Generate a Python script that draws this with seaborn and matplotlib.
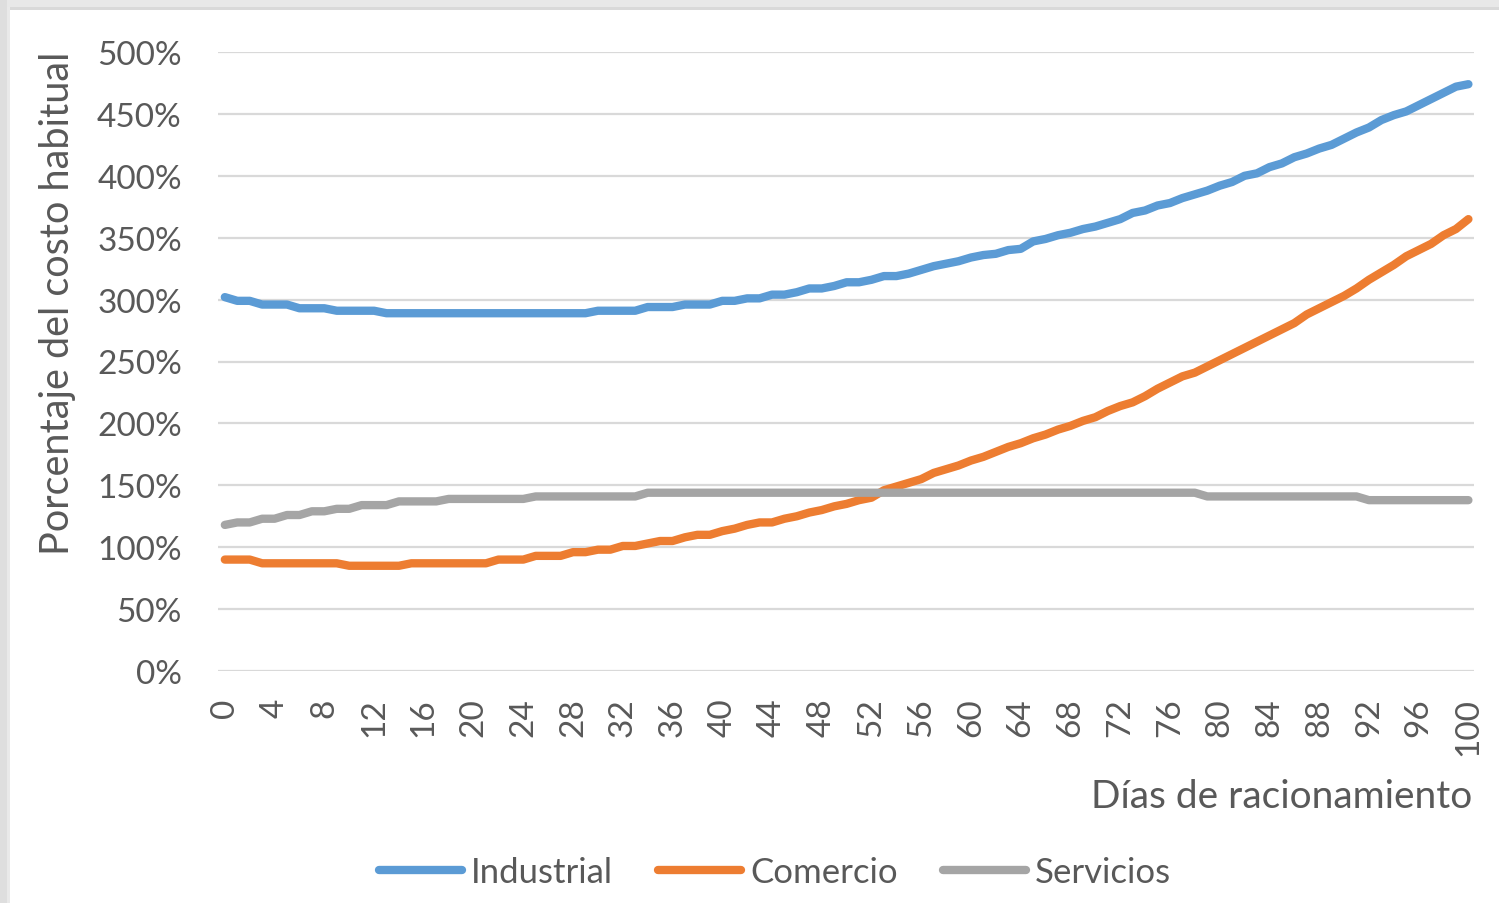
import numpy as np
import pandas as pd
import matplotlib
matplotlib.use("Agg")
import matplotlib.pyplot as plt
from matplotlib.patches import Rectangle
import seaborn as sns

# Days of rationing (x axis)
dias = list(range(0, 101))

# Cost as a percentage of the usual cost, one value per day
industrial = (
    [302, 299, 299, 296, 296, 296, 293, 293, 293, 291, 291, 291, 291]
    + [289] * 17
    + [291, 291, 291, 291, 294, 294, 294, 296, 296, 296, 299, 299, 301, 301,
       304, 304, 306, 309, 309, 311, 314, 314, 316, 319, 319, 321, 324, 327,
       329, 331, 334, 336, 337, 340, 341, 347, 349, 352, 354, 357, 359, 362,
       365, 370, 372, 376, 378, 382, 385, 388, 392, 395, 400, 402, 407, 410,
       415, 418, 422, 425, 430, 435, 439, 445, 449, 452, 457, 462, 467, 472,
       474]
)
comercio = (
    [90, 90, 90] + [87] * 7 + [85] * 5 + [87] * 7
    + [90, 90, 90, 93, 93, 93, 96, 96, 98, 98, 101, 101, 103, 105, 105, 108,
       110, 110, 113, 115, 118, 120, 120, 123, 125, 128, 130, 133, 135, 138,
       140, 146, 149, 152, 155, 160, 163, 166, 170, 173, 177, 181, 184, 188,
       191, 195, 198, 202, 205, 210, 214, 217, 222, 228, 233, 238, 241, 246,
       251, 256, 261, 266, 271, 276, 281, 288, 293, 298, 303, 309, 316, 322,
       328, 335, 340, 345, 352, 357, 365]
)
servicios = (
    [118, 120, 120, 123, 123, 126, 126, 129, 129, 131, 131, 134, 134, 134]
    + [137] * 4 + [139] * 7 + [141] * 9 + [144] * 45 + [141] * 13 + [138] * 9
)

series_names = ["Industrial", "Comercio", "Servicios"]
series_colors = ["#5b9bd5", "#ed7d31", "#a5a5a5"]
y_ticks = list(range(0, 501, 50))
x_ticks = list(range(0, 101, 4))

df = pd.DataFrame({
    "dia": dias * 3,
    "valor": industrial + comercio + servicios,
    "serie": [series_names[0]] * len(dias) + [series_names[1]] * len(dias)
             + [series_names[2]] * len(dias),
})

sns.set_theme(style="white")
FONT = ["Lato", "DejaVu Sans"]
plt.rcParams["font.family"] = FONT
TXT = "#595959"

W, H = 1499, 904
fig = plt.figure(figsize=(W / 100, H / 100), dpi=100, facecolor="white")

# frame strips along the top and left edges
fig.patches.append(Rectangle((0, 1 - 8 / H), 1, 8 / H, transform=fig.transFigure,
                             facecolor="#e8e8e8", edgecolor="none", zorder=0))
fig.patches.append(Rectangle((0, 1 - 11 / H), 1, 3 / H, transform=fig.transFigure,
                             facecolor="#d9d9d9", edgecolor="none", zorder=0))
fig.patches.append(Rectangle((0, 0), 7 / W, 1, transform=fig.transFigure,
                             facecolor="#dedede", edgecolor="none", zorder=0))
fig.patches.append(Rectangle((7 / W, 0), 3 / W, 1 - 8 / H, transform=fig.transFigure,
                             facecolor="#e9e9e9", edgecolor="none", zorder=0))

left, right, top, bottom = 218, 1474, 53, 672
ax = fig.add_axes([left / W, 1 - bottom / H, (right - left) / W, (bottom - top) / H])
ax.set_facecolor("none")

sns.lineplot(data=df, x="dia", y="valor", hue="serie", hue_order=series_names,
             palette=series_colors, linewidth=6, solid_capstyle="round",
             ax=ax, legend=True)

handles, labels = ax.get_legend_handles_labels()
ax.get_legend().remove()

ax.set_xlim(-0.55, 100.45)
ax.set_ylim(0, 500)
ax.set_yticks(y_ticks)
ax.set_yticklabels([f"{v}%" for v in y_ticks])
ax.set_xticks(x_ticks)
ax.set_xticklabels([str(v) for v in x_ticks], rotation=90, va="top", ha="center")

ax.yaxis.grid(True, color="#d9d9d9", linewidth=1.6)
ax.xaxis.grid(False)
ax.set_axisbelow(True)
for s in ax.spines.values():
    s.set_visible(False)

ax.tick_params(axis="y", length=0, pad=26, labelsize=24, labelcolor=TXT)
ax.tick_params(axis="x", length=0, pad=19, labelsize=24, labelcolor=TXT)

ax.set_xlabel("")
ax.set_ylabel("Porcentaje del costo habitual", fontsize=28.5, color=TXT)
ax.yaxis.set_label_coords((76 - left) / (right - left), (bottom - 303) / (bottom - top))

fig.text(1472 / W, 1 - 797 / H, "Días de racionamiento", ha="right", va="center",
         fontsize=28, color=TXT)

leg = fig.legend(handles, labels, loc="center", bbox_to_anchor=(775 / W, 1 - 873 / H),
                 ncol=3, frameon=False, fontsize=25, handlelength=2.4,
                 handletextpad=0.25, columnspacing=1.3, labelcolor=TXT)
for ln in leg.get_lines():
    ln.set_linewidth(6)
    ln.set_solid_capstyle("round")

fig.savefig("out.png", dpi=100, facecolor="white")
